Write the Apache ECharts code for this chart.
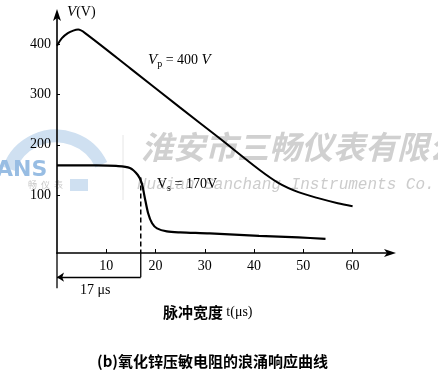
<!DOCTYPE html>
<html><head><meta charset="utf-8">
<script src="https://cdn.jsdelivr.net/npm/echarts@6/dist/echarts.min.js"></script>
<style>html,body{margin:0;padding:0;background:#fff;}#c{width:438px;height:379px;}</style>
</head><body><div id="c"></div>
<script>
// ---- data ----
const tHigh = [0, 1, 2.2, 3.3, 4.3, 5.7, 15, 25, 33, 41, 45, 49, 53, 57, 60];
const vHigh = [397, 412, 422, 427, 429, 422, 351, 274, 213, 151, 124, 106, 94, 84, 78];
const tLow = [0, 8, 12, 14.8, 16.4, 17.2, 17.8, 18.5, 19.3, 20.3, 22.3, 25, 31, 41, 49, 54.5];
const vLow = [159, 159, 158, 154, 140, 124, 96, 64, 44, 34, 28, 26, 24, 19, 16, 13];
const xTicks = [10, 20, 30, 40, 50, 60];
const yTicks = [100, 200, 300, 400];
const responseTime = 17;          // 17 μs marker
const dashTop = 135;
const xRange = [0, 68];
const yRange = [-15, 462];
const dimLevel = -63;             // level of the 17 μs dimension line (below axis)
const axisExtEnd = -85;           // y-axis extension below the t axis

const serif = '"Liberation Serif", "DejaVu Serif", serif';
const cjk = '"Noto Sans CJK SC", sans-serif';

const pair = (ts, vs) => ts.map((t, i) => [t, vs[i]]);

const chart = echarts.init(document.getElementById('c'), null, {renderer: 'canvas'});
const option = {
  backgroundColor: '#fff',
  animation: false,
  grid: {left: 57, top: 13, right: 46, bottom: 126, containLabel: false, outerBoundsMode: 'none'},
  xAxis: {
    type: 'value', min: xRange[0], max: xRange[1],
    axisLine: {onZero: false, symbol: ['none', 'arrow'], symbolSize: [6, 12], symbolOffset: [0, 4],
      lineStyle: {color: '#000', width: 1.6}},
    axisTick: {inside: true, length: 4, customValues: xTicks, lineStyle: {color: '#000', width: 1}},
    axisLabel: {customValues: xTicks, color: '#000', fontFamily: serif, fontSize: 14, margin: 6},
    splitLine: {show: false}
  },
  yAxis: {
    type: 'value', min: yRange[0], max: yRange[1],
    axisLine: {show: true, symbol: ['none', 'arrow'], symbolSize: [6, 12], symbolOffset: [0, 4],
      lineStyle: {color: '#000', width: 1.6}},
    axisTick: {show: true, inside: true, length: 3, customValues: yTicks, lineStyle: {color: '#000'}},
    axisLabel: {customValues: yTicks, color: '#000', fontFamily: serif, fontSize: 14, margin: 6},
    splitLine: {show: false}
  },
  series: [
    {type: 'line', data: pair(tHigh, vHigh), smooth: 0.3, showSymbol: false,
      lineStyle: {color: '#000', width: 2}},
    {type: 'line', data: pair(tLow, vLow), smooth: 0.3, showSymbol: false,
      lineStyle: {color: '#000', width: 2.2}},
    {type: 'line', data: [[responseTime, dashTop], [responseTime, yRange[0]]], showSymbol: false,
      lineStyle: {color: '#000', width: 1.5, type: [5, 3]}},
    {type: 'line', data: [[responseTime, yRange[0]], [responseTime, dimLevel]], showSymbol: false, clip: false,
      lineStyle: {color: '#000', width: 1.3}},
    {type: 'line', data: [[0, yRange[0]], [0, axisExtEnd]], showSymbol: false, clip: false,
      lineStyle: {color: '#000', width: 1.3}},
    {type: 'lines', coordinateSystem: 'cartesian2d', clip: false, symbol: ['arrow', 'none'], symbolSize: [7, 16],
      data: [{coords: [[0, dimLevel], [responseTime, dimLevel]]}],
      lineStyle: {color: '#000', width: 1.3, opacity: 1, curveness: 0}}
  ],
  graphic: [
    // watermark (behind)
    {type: 'arc', z: -5, shape: {cx: 56, cy: 186, r: 50, startAngle: 200 * Math.PI / 180, endAngle: 335 * Math.PI / 180, clockwise: true},
      style: {stroke: '#cfe0f1', lineWidth: 13, fill: null}},
    {type: 'rect', z: -5, shape: {x: 70, y: 179, width: 18, height: 12}, style: {fill: '#cfe0f1'}},
    {type: 'line', z: -5, shape: {x1: 123, y1: 135, x2: 123, y2: 200}, style: {stroke: '#e6e6e6', lineWidth: 1}},
    {type: 'text', z: -4, left: -4, top: 159, style: {text: 'ANS', fill: '#98bde3', font: 'bold 22px "DejaVu Sans", sans-serif'}},
    {type: 'text', z: -4, left: 28, top: 180, style: {text: '畅  仪  表', fill: '#c8c8c8', font: '9px ' + cjk}},
    {type: 'text', z: -4, left: 141, top: 131, style: {text: '淮安市三畅仪表有限公', fill: '#d0d0d0', font: 'italic bold 32px ' + cjk}},
    {type: 'text', z: -4, left: 137, top: 177, style: {text: 'Huaian Sanchang Instruments Co.', fill: '#cccccc', font: 'italic 16px "Liberation Mono", "DejaVu Sans Mono", monospace'}},
    // annotations
    {type: 'text', left: 67, top: 5, style: {text: '{i|V}{n|(V)}', rich: {
      i: {font: 'italic 15px ' + serif, fill: '#000'}, n: {font: '14px ' + serif, fill: '#000'}}}},
    {type: 'text', left: 148, top: 53, style: {text: '{i|V}{s|p}{n| = 400 }{i|V}', rich: {
      i: {font: 'italic 15px ' + serif, fill: '#000'}, s: {font: '10px ' + serif, fill: '#000', verticalAlign: 'bottom', padding: [8, 0, 0, 0]},
      n: {font: '14px ' + serif, fill: '#000'}}}},
    {type: 'text', left: 157, top: 177, style: {text: '{n|V}{s|s}{n| = 170V}', rich: {
      s: {font: '10px ' + serif, fill: '#000', padding: [8, 0, 0, 0]},
      n: {font: '14px ' + serif, fill: '#000'}}}},
    {type: 'text', left: 80, top: 283, style: {text: '17 μs', fill: '#000', font: '14px ' + serif}},
    {type: 'text', left: 163, top: 305, style: {text: '{c|脉冲宽度} {n|t(μs)}', rich: {
      c: {font: 'bold 15px ' + cjk, fill: '#000'}, n: {font: '14px ' + serif, fill: '#000'}}}},
    {type: 'text', left: 97, top: 354, style: {text: '(b)氧化锌压敏电阻的浪涌响应曲线', fill: '#000', font: 'bold 15px ' + cjk}}
  ]
};
chart.setOption(option);
</script></body></html>
